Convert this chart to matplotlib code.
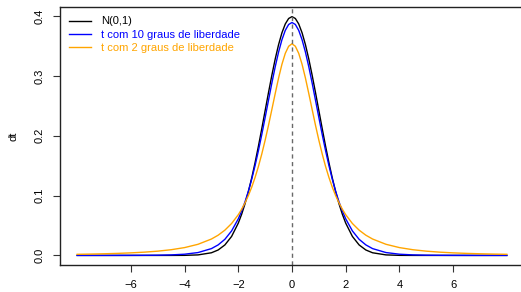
import numpy as np
import matplotlib.pyplot as plt

plt.rcParams["font.family"] = ["Liberation Sans", "DejaVu Sans"]

# valores (densidades)
x = [-8, -7.5, -7, -6.5, -6, -5.5, -5, -4.5, -4, -3.5,
     -3, -2.75, -2.5, -2.25,
     -2, -1.875, -1.75, -1.625, -1.5, -1.375, -1.25, -1.125,
     -1, -0.875, -0.75, -0.625, -0.5, -0.375, -0.25, -0.125,
     0,
     0.125, 0.25, 0.375, 0.5, 0.625, 0.75, 0.875, 1,
     1.125, 1.25, 1.375, 1.5, 1.625, 1.75, 1.875, 2,
     2.25, 2.5, 2.75, 3,
     3.5, 4, 4.5, 5, 5.5, 6, 6.5, 7, 7.5, 8]

normal = [0, 0, 0, 0, 0, 0, 0, 0.00002, 0.00013, 0.00087,
          0.00443, 0.00909, 0.0175, 0.0317,
          0.0540, 0.0688, 0.0863, 0.1065, 0.1295, 0.1550, 0.1826, 0.2119,
          0.2420, 0.2721, 0.3011, 0.3282, 0.3521, 0.3719, 0.3867, 0.3958,
          0.3989,
          0.3958, 0.3867, 0.3719, 0.3521, 0.3282, 0.3011, 0.2721, 0.2420,
          0.2119, 0.1826, 0.1550, 0.1295, 0.1065, 0.0863, 0.0688, 0.0540,
          0.0317, 0.0175, 0.00909, 0.00443,
          0.00087, 0.00013, 0.00002, 0, 0, 0, 0, 0, 0, 0]

t10 = [0.000006, 0.000012, 0.000022, 0.000044, 0.000088, 0.000184, 0.000396, 0.000884, 0.00203, 0.00478,
       0.0114, 0.0176, 0.0269, 0.0409,
       0.0611, 0.0742, 0.0895, 0.1072, 0.1274, 0.1501, 0.1751, 0.2020,
       0.2304, 0.2593, 0.2880, 0.3152, 0.3397, 0.3603, 0.3760, 0.3858,
       0.3891,
       0.3858, 0.3760, 0.3603, 0.3397, 0.3152, 0.2880, 0.2593, 0.2304,
       0.2020, 0.1751, 0.1501, 0.1274, 0.1072, 0.0895, 0.0742, 0.0611,
       0.0409, 0.0269, 0.0176, 0.0114,
       0.00478, 0.00203, 0.000884, 0.000396, 0.000184, 0.000088, 0.000044, 0.000022, 0.000012, 0.000006]

t2 = [0.00186, 0.00225, 0.00274, 0.00340, 0.00427, 0.00546, 0.00713, 0.00953, 0.01309, 0.01859,
      0.0274, 0.0338, 0.0422, 0.0533,
      0.0680, 0.0772, 0.0878, 0.1000, 0.1141, 0.1303, 0.1487, 0.1695,
      0.1925, 0.2174, 0.2438, 0.2705, 0.2963, 0.3193, 0.3376, 0.3494,
      0.3536,
      0.3494, 0.3376, 0.3193, 0.2963, 0.2705, 0.2438, 0.2174, 0.1925,
      0.1695, 0.1487, 0.1303, 0.1141, 0.1000, 0.0878, 0.0772, 0.0680,
      0.0533, 0.0422, 0.0338, 0.0274,
      0.01859, 0.01309, 0.00953, 0.00713, 0.00546, 0.00427, 0.00340, 0.00274, 0.00225, 0.00186]

labels = ["N(0,1)", "t com 10 graus de liberdade", "t com 2 graus de liberdade"]
cores = ["black", "blue", "orange"]

fig = plt.figure(figsize=(5.21, 2.92), dpi=100)
ax = fig.add_axes([60/521, 27/292, 464/521, 258/292])

for y, lab, c in zip([normal, t10, t2], labels, cores):
    ax.plot(x, y, color=c, lw=1.0, label=lab)

ax.axvline(0, color="dimgray", lw=1.0, ls=(0, (3, 2.5)))

ax.set_xlim(-8.64, 8.64)
ax.set_ylim(-0.016, 0.415)
ax.set_xticks([-6, -4, -2, 0, 2, 4, 6])
ax.set_yticks([0.0, 0.1, 0.2, 0.3, 0.4])
ax.set_yticklabels(["0.0", "0.1", "0.2", "0.3", "0.4"], rotation=90, va="center")
ax.tick_params(labelsize=8, length=5, width=0.8, color="#333333", pad=6)
ax.set_ylabel("dt", fontsize=8, labelpad=12)
for s in ax.spines.values():
    s.set_linewidth(1.0)
    s.set_color("#222222")

ax.legend(loc="upper left", bbox_to_anchor=(0.008, 0.985), frameon=False, fontsize=8,
          labelcolor="linecolor", handlelength=2.0, handletextpad=0.9,
          labelspacing=0.3, borderaxespad=0.2, borderpad=0.3)

fig.savefig("out.png", dpi=100)
